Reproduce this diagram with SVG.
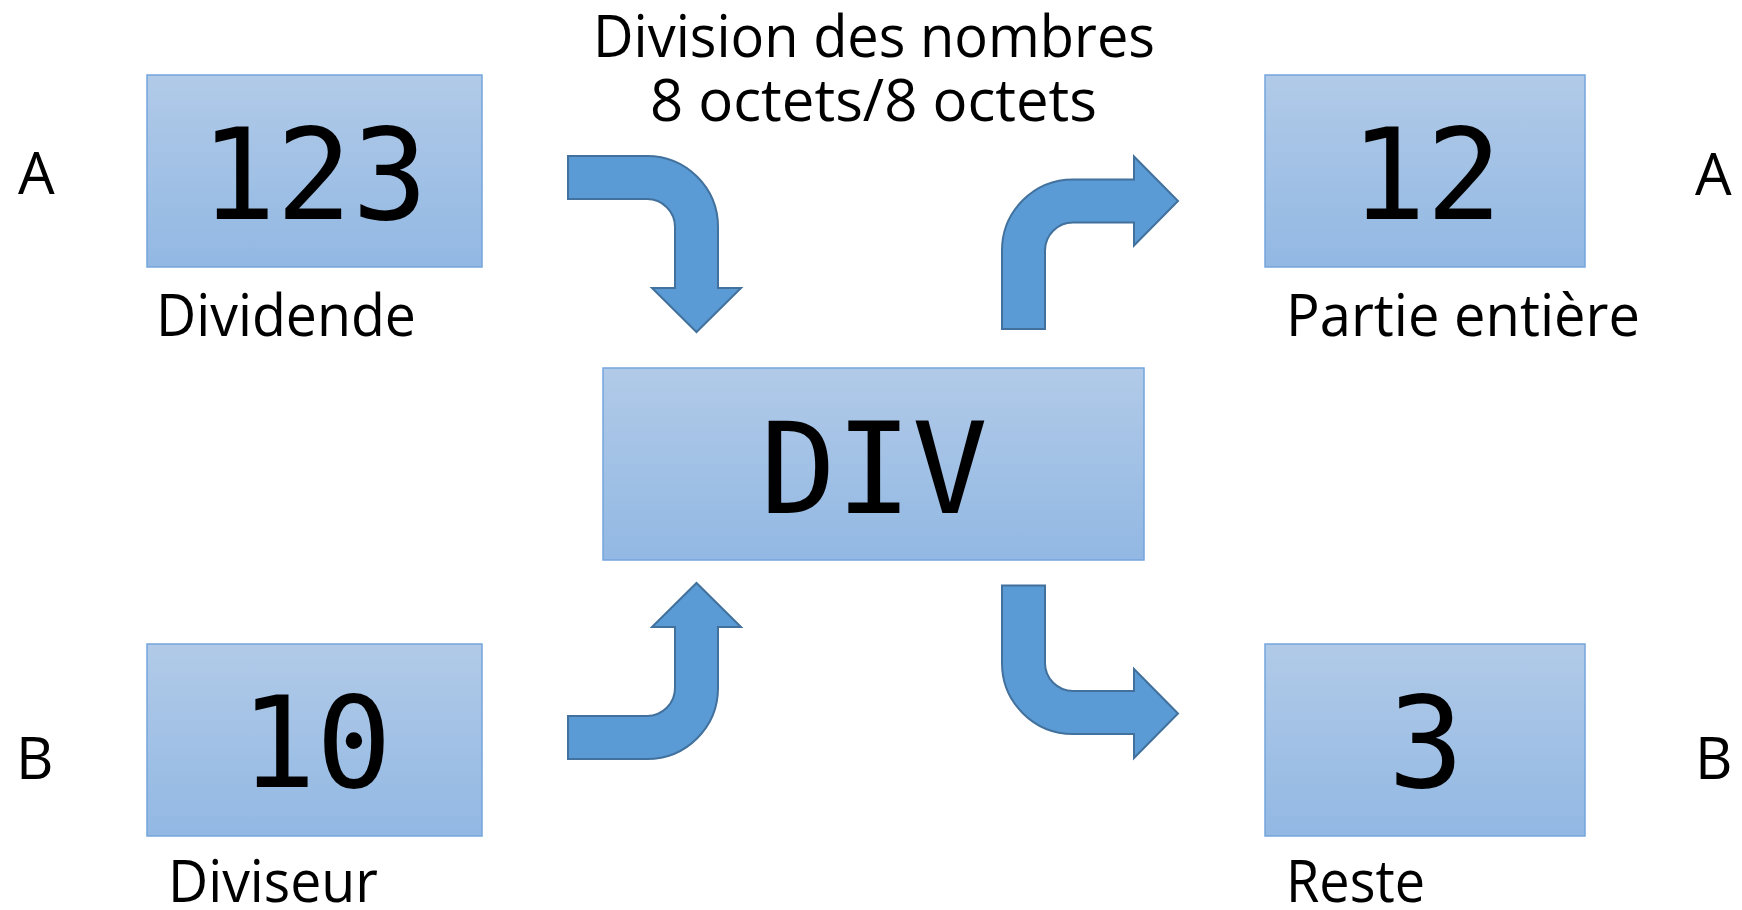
<svg xmlns="http://www.w3.org/2000/svg" width="1742" height="910" viewBox="0 0 1742 910">
<style>
.box{fill:url(#g);stroke:#74a5dc;stroke-width:1.5}
.num{font-family:"DejaVu Sans Mono","Liberation Mono",monospace;font-size:126px;fill:#000;text-anchor:middle}
.lbl{font-family:"Open Sans","Noto Sans","Liberation Sans",sans-serif;font-size:58px;fill:#000}
.arr{fill:#5b9bd5;stroke:#41719c;stroke-width:2;stroke-linejoin:miter}
</style>
<defs>
<linearGradient id="g" x1="0" y1="0" x2="0" y2="1">
<stop offset="0" stop-color="#b1cae8"/>
<stop offset="1" stop-color="#92b8e3"/>
</linearGradient>
</defs>
<rect width="1742" height="910" fill="#fff"/>
<g id="title">
<text class="lbl" x="593" y="57" textLength="562" lengthAdjust="spacingAndGlyphs">Division des nombres</text>
<text class="lbl" x="650" y="121" textLength="447" lengthAdjust="spacingAndGlyphs">8 octets/8 octets</text>
</g>
<g id="dividende">
<rect class="box" x="147" y="75" width="335" height="192"/>
<text class="num" x="314" y="219">123</text>
<text class="lbl" x="156" y="336" textLength="260" lengthAdjust="spacingAndGlyphs">Dividende</text>
<text class="lbl" x="18" y="194">A</text>
</g>
<g id="diviseur">
<rect class="box" x="147" y="644" width="335" height="192"/>
<text class="num" x="316" y="787">10</text>
<text class="lbl" x="168" y="902" textLength="210" lengthAdjust="spacingAndGlyphs">Diviseur</text>
<text class="lbl" x="16" y="779">B</text>
</g>
<g id="div">
<rect class="box" x="603" y="368" width="541" height="192"/>
<text class="num" x="874" y="513">DIV</text>
</g>
<g id="quotient">
<rect class="box" x="1265" y="75" width="320" height="192"/>
<text class="num" x="1426" y="219">12</text>
<text class="lbl" x="1286" y="336" textLength="354" lengthAdjust="spacingAndGlyphs">Partie entière</text>
<text class="lbl" x="1695" y="195">A</text>
</g>
<g id="reste">
<rect class="box" x="1265" y="644" width="320" height="192"/>
<text class="num" x="1426" y="787">3</text>
<text class="lbl" x="1286" y="902" textLength="139" lengthAdjust="spacingAndGlyphs">Reste</text>
<text class="lbl" x="1695" y="779">B</text>
</g>
<g id="connectors">
<path class="arr" d="M568,156 H647 A71,71 0 0 1 718,227 V288 H741 L696.5,332 L652,288 H675 V227 A28,28 0 0 0 647,199 H568 Z"/>
<path class="arr" d="M1002,329 V250.5 A71,71 0 0 1 1073,179.5 H1134 V156.5 L1178,201 L1134,245.5 V222.5 H1073 A28,28 0 0 0 1045,250.5 V329 Z"/>
<path class="arr" d="M568,716 H647 A28,28 0 0 0 675,688 V627 H652 L696.5,583 L741,627 H718 V688 A71,71 0 0 1 647,759 H568 Z"/>
<path class="arr" d="M1002,585.5 H1045 V663 A28,28 0 0 0 1073,691 H1134 V669 L1178,713.5 L1134,758 V734 H1073 A71,71 0 0 1 1002,663 Z"/>
</g>
</svg>
